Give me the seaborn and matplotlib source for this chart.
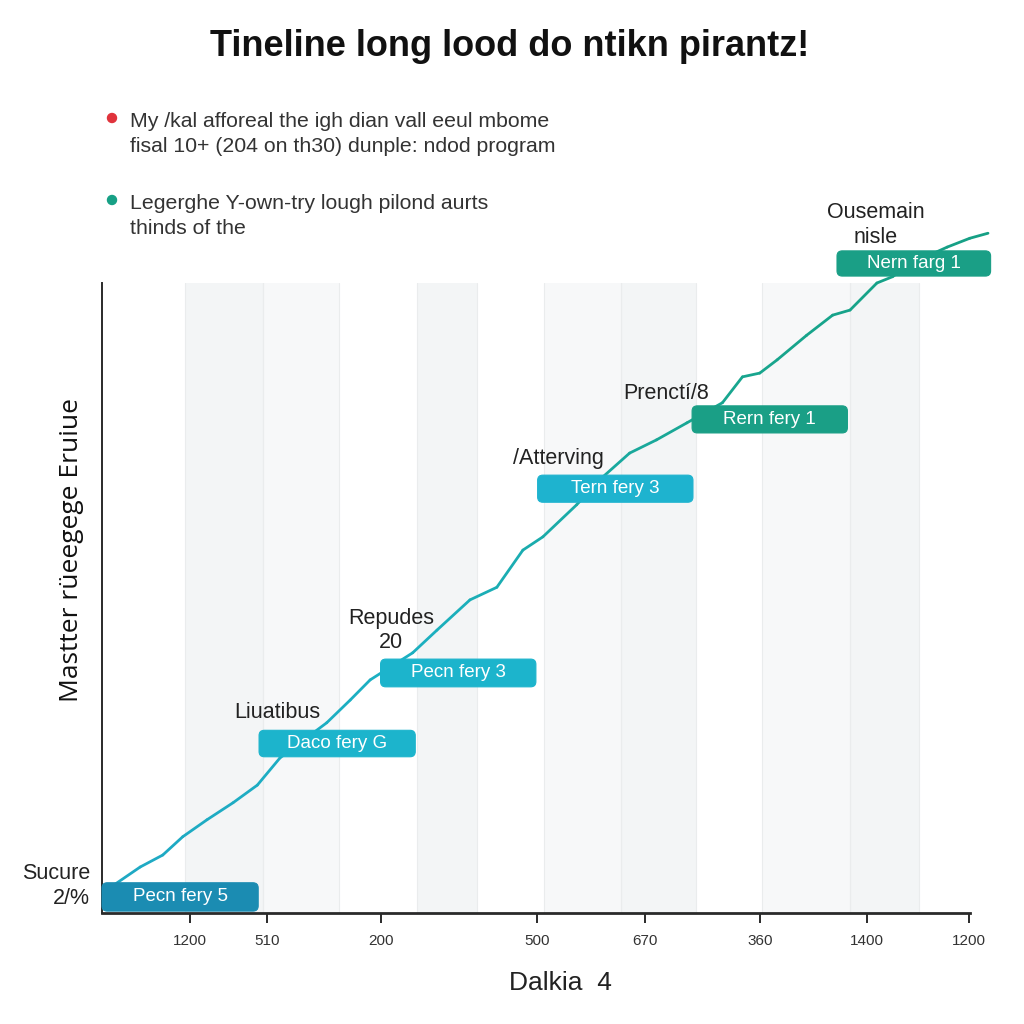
import numpy as np
import pandas as pd
import matplotlib
matplotlib.use("Agg")
import matplotlib.pyplot as plt
from matplotlib.patches import FancyBboxPatch, Circle
from matplotlib.colors import LinearSegmentedColormap, to_hex
import seaborn as sns

# ---------------- data ----------------
title = "Tineline long lood do ntikn pirantz!"
x_label = "Dalkia  4"
y_label = "Mastter rüeegege Eruiue"

line_x = [0.9, 4.4, 7.0, 9.3, 12.1, 15.1, 17.9, 20.5, 22.8, 25.9, 28.6, 30.9,
          35.8, 38.6, 42.4, 45.5, 48.5, 50.8, 54.7, 57.7, 60.8, 63.9, 67.4,
          71.5, 73.8, 75.8, 77.8, 81.2, 84.2, 86.2, 89.3, 91.1, 93.4, 97.4,
          100.0, 102.1]
line_y = [4.0, 7.3, 9.2, 12.1, 14.8, 17.5, 20.3, 24.6, 27.0, 30.2, 33.8, 37.0,
          41.3, 44.9, 49.7, 51.7, 57.6, 59.7, 64.8, 69.2, 73.0, 75.1, 77.8,
          81.0, 85.1, 85.7, 87.8, 91.7, 94.9, 95.7, 100.0, 101.0, 103.2, 105.7,
          107.1, 107.9]

tick_pos = [10.1, 19.0, 32.1, 50.1, 62.6, 75.8, 88.1, 99.9]
tick_labels = ["1200", "510", "200", "500", "670", "360", "1400", "1200"]

band_start = [9.6, 18.5, 36.3, 50.9, 59.8, 76.0, 86.2]
band_end = [18.5, 27.3, 43.2, 59.8, 68.4, 86.2, 94.2]

badge_text = ["Pecn fery 5", "Daco fery G", "Pecn fery 3", "Tern fery 3",
              "Rern fery 1", "Nern farg 1"]
badge_start = [0.0, 18.1, 32.1, 50.2, 68.0, 84.7]
badge_end = [18.0, 36.1, 50.0, 68.1, 85.9, 102.4]
badge_low = [0.3, 24.8, 35.9, 65.2, 76.2, 101.1]
badge_high = [4.8, 29.0, 40.3, 69.5, 80.5, 105.1]

note_text = ["Sucure\n2/%", "Liuatibus", "Repudes\n20", "/Atterving",
             "Prenctí/8", "Ousemain\nnisle"]
note_x = [-1.4, 15.2, 33.3, 47.4, 60.1, 89.2]
note_y = [4.3, 31.9, 44.9, 72.2, 82.4, 109.2]

legend_text = ["My /kal afforeal the igh dian vall eeul mbome\n"
               "fisal 10+ (204 on th30) dunple: ndod program",
               "Legerghe Y-own-try lough pilond aurts\nthinds of the"]

# ---------------- styles ----------------
badge_colors = ["#1b8cb2", "#1cb4cc", "#1cb4cc", "#1eb3cf", "#1a9f86", "#1a9f86"]
note_ha = ["right", "left", "center", "left", "left", "center"]
legend_colors = ["#e0333c", "#17a085"]
band_colors = ["#f3f5f6", "#f7f8f9"]

sns.set_theme(style="white")
plt.rcParams['font.family'] = ['Liberation Sans', 'DejaVu Sans']

fig = plt.figure(figsize=(10.24, 10.24), dpi=100)
fig.patch.set_facecolor("white")
ax = fig.add_axes([102 / 1024, 111 / 1024, 886 / 1024, 693 / 1024])
ax.set_xlim(0, 102.1)
ax.set_ylim(0, 110)
ax.set_facecolor("white")

# vertical bands
for i, (s, e) in enumerate(zip(band_start, band_end)):
    ax.fill_between([s, e], 0, 100, color=band_colors[i % 2], zorder=0, lw=0)
    for xv in (s, e):
        ax.plot([xv, xv], [0, 100], color="#eaeced", lw=0.8, zorder=0.5)

# gradient line via seaborn (segment-wise hue)
cmap = LinearSegmentedColormap.from_list("g", ["#1fa9c4", "#1cb0c2", "#18a68f", "#16a085"])
rows = []
n = len(line_x)
for i in range(n - 1):
    for j in (i, i + 1):
        rows.append({"x": line_x[j], "y": line_y[j], "seg": i})
df = pd.DataFrame(rows)
pal = [to_hex(cmap(i / (n - 2))) for i in range(n - 1)]
sns.lineplot(data=df, x="x", y="y", hue="seg", palette=pal, sort=False,
             estimator=None, legend=False, lw=2.0, ax=ax, zorder=2,
             solid_capstyle="round", clip_on=False)

# badges
for t, x0, x1, y0, y1, c in zip(badge_text, badge_start, badge_end, badge_low,
                                badge_high, badge_colors):
    p = FancyBboxPatch((x0, y0), x1 - x0, y1 - y0,
                       boxstyle="round,pad=0,rounding_size=0.6",
                       mutation_aspect=1.38, fc=c, ec=c, lw=0.8,
                       zorder=3, clip_on=False)
    ax.add_patch(p)
    ax.text((x0 + x1) / 2, (y0 + y1) / 2, t, color="white", fontsize=13.5,
            ha="center", va="center", zorder=4)

# annotations
for t, x, y, ha in zip(note_text, note_x, note_y, note_ha):
    ax.text(x, y, t, ha=ha, va="center", multialignment=ha,
            fontsize=15.5, color="#222222", linespacing=1.2, zorder=4, clip_on=False)

# axes styling
sns.despine(ax=ax, top=True, right=True)
ax.spines["bottom"].set_bounds(0, 100)
ax.spines["left"].set_bounds(0, 100)
ax.spines["bottom"].set_color("#2a2a2a")
ax.spines["left"].set_color("#2a2a2a")
ax.spines["bottom"].set_linewidth(2.0)
ax.spines["left"].set_linewidth(1.4)
ax.set_xticks(tick_pos)
ax.set_xticklabels(tick_labels)
ax.set_yticks([])
ax.tick_params(axis="x", direction="out", length=7, width=1.4, color="#2a2a2a",
               labelsize=11, labelcolor="#333333", pad=8, bottom=True)
ax.set_xlabel(x_label, fontsize=19, color="#222222", va="center")
ax.xaxis.set_label_coords(458 / 886, -70 / 693)
ax.set_ylabel(y_label, fontsize=19, color="#111111", family=['Open Sans', 'DejaVu Sans'],
              va="center")
ax.yaxis.set_label_coords(-30 / 886, (913 - 550) / 693)

# title
fig.text(510 / 1024, 1 - 47 / 1024, title, ha="center", va="center",
         fontsize=26, fontweight="bold", color="#111111")

# legend-like notes
for i, (t, c) in enumerate(zip(legend_text, legend_colors)):
    yc = [134, 216][i]
    dot_y = [118, 200][i]
    fig.add_artist(Circle((112 / 1024, 1 - dot_y / 1024), 4.5 / 1024, color=c,
                          transform=fig.transFigure))
    fig.text(130 / 1024, 1 - yc / 1024, t, ha="left", va="center", fontsize=15.3,
             color="#333333", linespacing=1.35)

fig.savefig("out.png", dpi=100, facecolor="white")
